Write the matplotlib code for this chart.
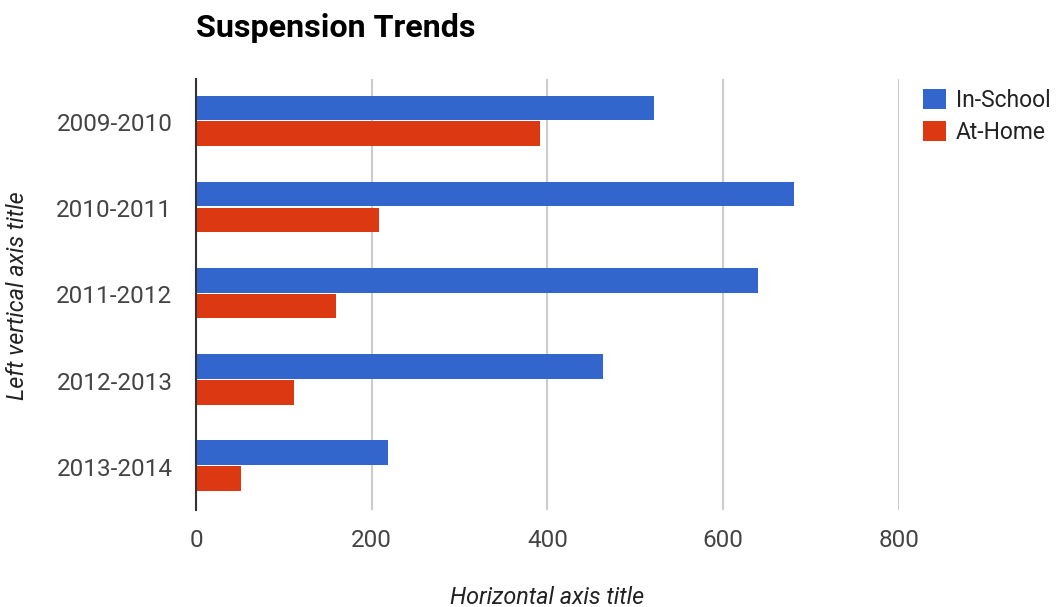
import numpy as np
import matplotlib.pyplot as plt

plt.rcParams['font.family'] = ['Roboto', 'DejaVu Sans']

years = ['2009-2010', '2010-2011', '2011-2012', '2012-2013', '2013-2014']
in_school = [521, 681, 640, 463, 219]
at_home = [392, 208, 159, 111, 51]
xticks = [0, 200, 400, 600, 800]

fig = plt.figure(figsize=(10.56, 6.07), dpi=100)
ax = fig.add_axes([0.1856, 0.1598, 0.6657, 0.7101])

y = np.arange(len(years))
h = 0.285
ax.barh(y - 0.165, in_school, height=h, color='#3366cc', label='In-School', zorder=3)
ax.barh(y + 0.135, at_home, height=h, color='#dc3912', label='At-Home', zorder=3)

ax.set_xlim(0, 800)
ax.set_ylim(len(years) - 0.5, -0.5)
ax.set_yticks(y)
ax.set_yticklabels(years)
ax.set_xticks(xticks)
ax.set_xticklabels([str(v) for v in xticks])
ax.tick_params(axis='y', length=0, pad=17, labelsize=17.5, labelcolor='#444444')
ax.tick_params(axis='x', length=0, pad=14, labelsize=17.5, labelcolor='#444444')
ax.grid(axis='x', color='#cccccc', linewidth=1.5, zorder=0)
ax.set_axisbelow(True)
for s in ['top', 'right', 'bottom']:
    ax.spines[s].set_visible(False)
ax.spines['left'].set_color('#333333')
ax.spines['left'].set_linewidth(1.5)
ax.spines['left'].set_zorder(4)

fig.text(196 / 1056, 1 - 28 / 607, 'Suspension Trends', fontsize=23.2, fontweight='bold',
         ha='left', va='center', color='#000000')
fig.text(547 / 1056, 1 - 597 / 607, 'Horizontal axis title', fontsize=16.8, style='italic',
         ha='center', va='center', color='#222222')
fig.text(18 / 1056, 1 - 296 / 607, 'Left vertical axis title', fontsize=16.8, style='italic',
         rotation=90, ha='center', va='center', color='#222222')

fig.legend(loc='upper left', bbox_to_anchor=(902 / 1056, 1 - 68 / 607), frameon=False,
           fontsize=16.5, handlelength=1.0, handleheight=1.0, handletextpad=0.45,
           labelspacing=0.4, labelcolor='#222222')

fig.savefig('out.png', dpi=100)
